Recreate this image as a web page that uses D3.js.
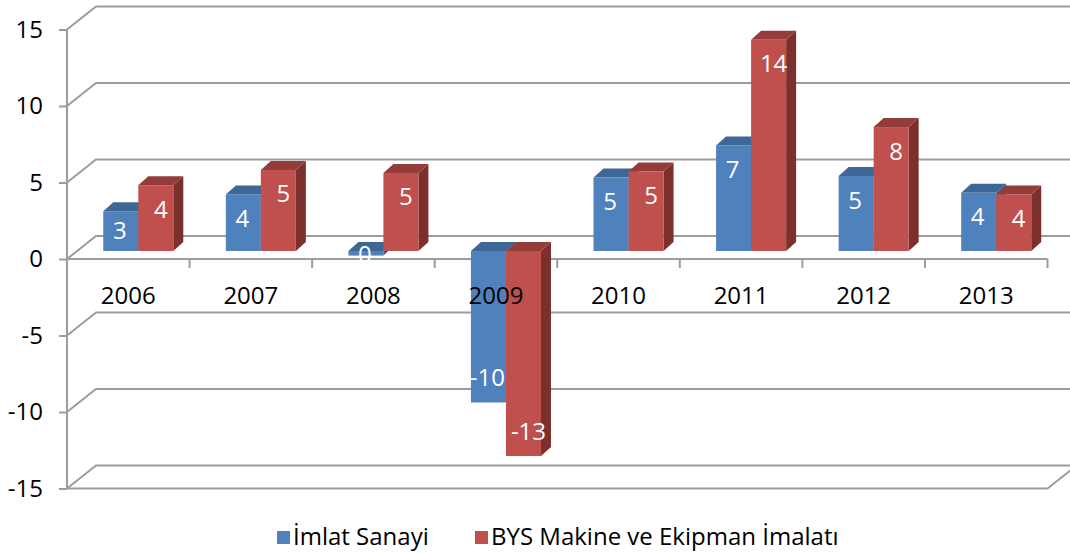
<!DOCTYPE html>
<html>
<head>
<meta charset="utf-8">
<script src="https://cdn.jsdelivr.net/npm/d3@7"></script>
<style>
  html, body { margin: 0; padding: 0; background: #fff; }
  svg { display: block; overflow: hidden; }
  text { font-family: "Open Sans", "Noto Sans", sans-serif; }
</style>
</head>
<body>
<svg id="chart" width="1070" height="554"></svg>
<script>
// ---- data ----
const years = ["2006", "2007", "2008", "2009", "2010", "2011", "2012", "2013"];
const seriesNames = ["İmlat Sanayi", "BYS Makine ve Ekipman İmalatı"];
const imalatSanayi = [2.6, 3.7, -0.3, -9.9, 4.8, 6.9, 4.9, 3.8];
const bysMakine = [4.3, 5.3, 5.1, -13.4, 5.2, 13.8, 8.1, 3.7];
const yTicks = [-15, -10, -5, 0, 5, 10, 15];

// ---- styles ----
const colors = [
  { front: "#4f81bd", top: "#3e6796", side: "#385d88" },
  { front: "#c0504d", top: "#933c3a", side: "#7c302e" }
];
const gridColor = "#9c9c9c";

const svg = d3.select("#chart");

// front plane geometry
const x0 = 67, x1 = 1047.5;
const depth = { x: 29, y: -23 };      // wall depth vector
const barOff = { x: 10, y: -8 };      // front face offset of bars
const barDepth = { x: 10, y: -9 };    // bar depth vector

const y = d3.scaleLinear().domain([-15, 15]).range([488.5, 29.5]);
const xBand = d3.scaleBand().domain(years).range([x0, x1]).padding(0);
const bw = xBand.bandwidth() / 3.5;   // gap width 150%
const xSeries = d3.scaleBand().domain([0, 1])
  .range([xBand.bandwidth() / 2 - bw, xBand.bandwidth() / 2 + bw]).padding(0);

const g = svg.append("g");

// ---- back wall gridlines + side wall diagonals ----
const grid = g.append("g").attr("fill", "none").attr("stroke", gridColor).attr("stroke-width", 2);
yTicks.forEach(t => {
  grid.append("path").attr("d", d3.line()([
    [x0, y(t)], [x0 + depth.x, y(t) + depth.y], [x1 + depth.x, y(t) + depth.y]
  ]));
});
// floor front edge at bottom (-15) and its right diagonal
const yMin = y(-15);
grid.append("path").attr("d", d3.line()([
  [x0, yMin], [x1, yMin], [x1 + depth.x, yMin + depth.y]
]));

// ---- value axis (front-left) ----
const yAxisG = g.append("g").attr("transform", `translate(${x0},0)`)
  .call(d3.axisLeft(y).tickValues(yTicks).tickSize(8).tickPadding(16).tickFormat(d => String(d)));
yAxisG.select(".domain").attr("stroke", gridColor).attr("stroke-width", 2).attr("d", `M0,${y(15)}V${y(-15)}`);
yAxisG.selectAll(".tick line").attr("stroke", gridColor).attr("stroke-width", 2);
yAxisG.selectAll(".tick text").attr("font-size", 24).attr("fill", "#000")
  .style("font-family", '"Open Sans", sans-serif');

// ---- category axis line at 0 with ticks ----
const xAxisG = g.append("g").attr("transform", `translate(0,${y(0)})`);
xAxisG.append("line").attr("x1", x0).attr("x2", x1).attr("y1", 0).attr("y2", 0)
  .attr("stroke", gridColor).attr("stroke-width", 2);
d3.range(1, years.length + 1).forEach(i => {
  const xx = x0 + i * xBand.bandwidth();
  xAxisG.append("line").attr("x1", xx).attr("x2", xx).attr("y1", 0).attr("y2", 9)
    .attr("stroke", gridColor).attr("stroke-width", 2);
});

// ---- bars ----
const allSeries = [imalatSanayi, bysMakine];
const bars = g.append("g");
const labels = [];
years.forEach((yr, i) => {
  allSeries.forEach((vals, s) => {
    const v = vals[i];
    const xl = xBand(yr) + xSeries(s) + barOff.x;
    const xr = xl + xSeries.bandwidth();
    const yt = y(Math.max(v, 0)) + barOff.y;
    const yb = y(Math.min(v, 0)) + barOff.y;
    const c = colors[s];
    // side face
    bars.append("path").attr("fill", c.side)
      .attr("d", d3.line()([[xr, yt], [xr + barDepth.x, yt + barDepth.y], [xr + barDepth.x, yb + barDepth.y], [xr, yb]]) + "Z");
    // top face
    bars.append("path").attr("fill", c.top)
      .attr("d", d3.line()([[xl, yt], [xl + barDepth.x, yt + barDepth.y], [xr + barDepth.x, yt + barDepth.y], [xr, yt]]) + "Z");
    // front face
    bars.append("rect").attr("fill", c.front)
      .attr("x", xl).attr("y", yt).attr("width", xr - xl).attr("height", Math.max(0.5, yb - yt));
    const h = yb - yt;
    const ly = v >= 0 ? yt + Math.min(23, h * 0.45) : yb - Math.min(26, h * 0.45);
    const lx = (xl + xr) / 2 + (s === 1 ? 5 : -1);
    const r = Math.round(v);
    labels.push({ x: lx, y: ly, t: String(r === 0 ? 0 : r) });
  });
});

// data labels
g.append("g").selectAll("text").data(labels).join("text")
  .attr("x", d => d.x).attr("y", d => d.y)
  .attr("text-anchor", "middle").attr("dominant-baseline", "central")
  .attr("font-size", 24).attr("fill", "#fff")
  .text(d => d.t);

// category labels
g.append("g").selectAll("text").data(years).join("text")
  .attr("x", d => xBand(d) + xBand.bandwidth() / 2)
  .attr("y", 294)
  .attr("text-anchor", "middle").attr("dominant-baseline", "central")
  .attr("font-size", 24).attr("fill", "#000")
  .text(d => d);

// ---- legend ----
const legend = svg.append("g");
const legendX = [277, 475];
seriesNames.forEach((name, s) => {
  legend.append("rect").attr("x", legendX[s]).attr("y", 531).attr("width", 13).attr("height", 13)
    .attr("fill", colors[s].front);
  legend.append("text").attr("x", legendX[s] + 16).attr("y", 545)
    .attr("font-size", 24).attr("fill", "#000").text(name);
});
</script>
</body>
</html>
